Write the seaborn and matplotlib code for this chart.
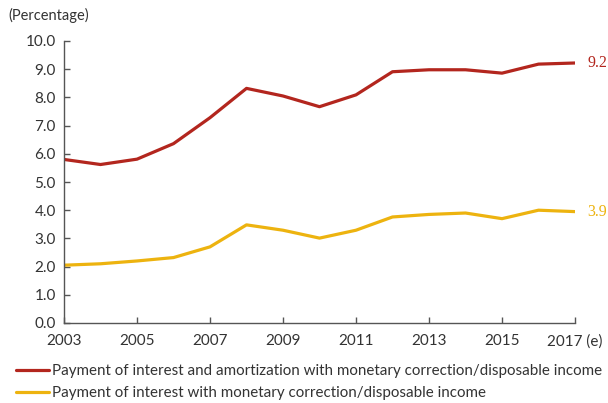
import matplotlib
matplotlib.use("Agg")
import matplotlib.pyplot as plt
import seaborn as sns
import pandas as pd

years = list(range(2003, 2018))
interest_amort = [5.80, 5.62, 5.81, 6.36, 7.28, 8.32, 8.05, 7.67, 8.09, 8.91, 8.98, 8.98, 8.86, 9.18, 9.22]
interest_only = [2.05, 2.10, 2.20, 2.32, 2.70, 3.48, 3.29, 3.01, 3.29, 3.76, 3.85, 3.90, 3.70, 4.00, 3.95]
series_names = [
    "Payment of interest and amortization with monetary correction/disposable income",
    "Payment of interest with monetary correction/disposable income",
]
end_labels = ["9.2", "3.9"]
xtick_years = [2003, 2005, 2007, 2009, 2011, 2013, 2015, 2017]
xtick_labels = ["2003", "2005", "2007", "2009", "2011", "2013", "2015", "2017 (e)"]
ytick_values = [0, 1, 2, 3, 4, 5, 6, 7, 8, 9, 10]
colors = ["#B3261E", "#EDB30F"]

df = pd.DataFrame({
    "year": years * 2,
    "value": interest_amort + interest_only,
    "series": [series_names[0]] * len(years) + [series_names[1]] * len(years),
})

sns.set_style("white")
plt.rcParams["font.family"] = ["Lato", "DejaVu Sans"]

fig = plt.figure(figsize=(6.08, 4.03), dpi=100)
ax = fig.add_axes([64 / 608, 1 - 323 / 403, (575 - 64) / 608, (323 - 41) / 403])

sns.lineplot(data=df, x="year", y="value", hue="series", palette=colors,
             hue_order=series_names, linewidth=2.3, ax=ax, legend=False)

ax.set_xlim(2003, 2017)
ax.set_ylim(0, 10)
ax.set_xticks(xtick_years)
ax.set_xticklabels(xtick_labels)
ax.set_yticks(ytick_values)
ax.set_yticklabels([f"{v:.1f}" for v in ytick_values])
ax.set_xlabel("")
ax.set_ylabel("")
for s in ["top", "right"]:
    ax.spines[s].set_visible(False)
for s in ["left", "bottom"]:
    ax.spines[s].set_color("#555555")
    ax.spines[s].set_linewidth(1.0)
ax.tick_params(axis="both", direction="in", length=4, width=1, color="#555555",
               labelsize=11, labelcolor="#333333")
ax.tick_params(axis="x", pad=8, bottom=True)
ax.tick_params(axis="y", pad=6, left=True)
ax.grid(False)

# end labels
for vals, lab, c in zip([interest_amort, interest_only], end_labels, colors):
    ax.annotate(lab, xy=(years[-1], vals[-1]), xytext=(9, 0), textcoords="offset points",
                va="center", ha="left", color=c, fontsize=11.5,
                family=["Liberation Serif", "DejaVu Serif"], annotation_clip=False)

fig.text(8 / 608, 1 - 15 / 403, "(Percentage)", ha="left", va="center", fontsize=10.5, color="#333333")

handles = [plt.Line2D([], [], color=c, linewidth=2.3) for c in colors]
fig.legend(handles, series_names, loc="upper left", bbox_to_anchor=(10 / 608, 1 - 358 / 403),
           frameon=False, fontsize=10.9, handlelength=2.2, handletextpad=0.15,
           labelspacing=0.55, borderaxespad=0, labelcolor="#333333")

fig.savefig("out.png", dpi=100)
